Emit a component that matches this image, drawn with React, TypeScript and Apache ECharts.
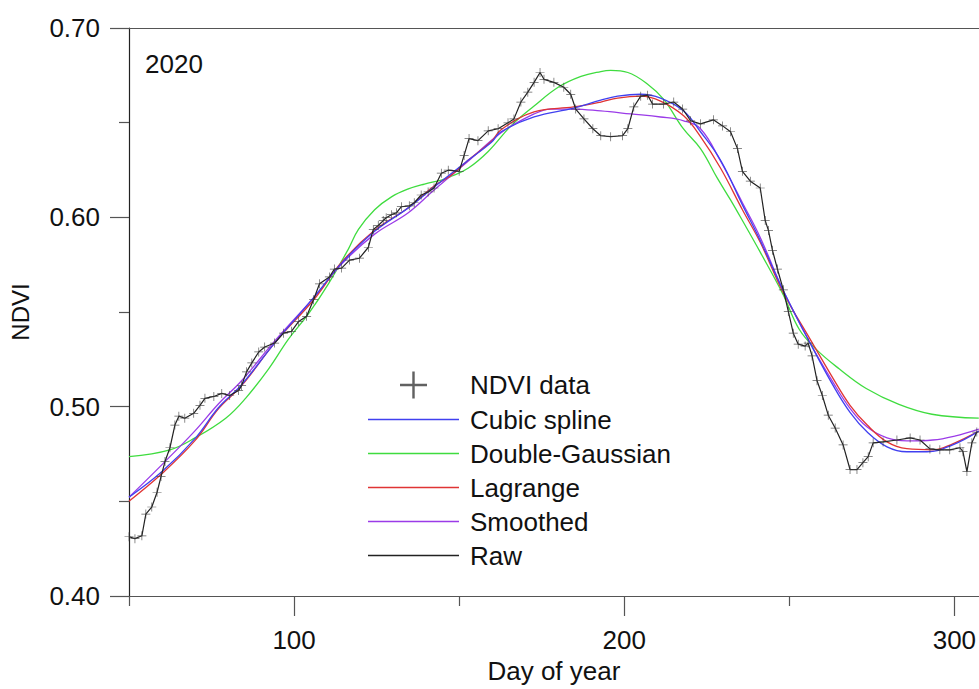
import React, { useEffect, useRef } from 'react';
import * as echarts from 'echarts';

const FONT = '"Liberation Sans", Arial, Helvetica, sans-serif';

const X_MIN = 50;
const X_MAX = 307.4;
const X_MAJOR_TICKS = [100, 200, 300];
const X_MINOR_TICKS = [50, 150, 250];
const Y_MIN = 0.4;
const Y_MAX = 0.7;
const Y_INTERVAL = 0.1;
const YEAR_LABEL = '2020';

// [day of year, NDVI]
const rawNdvi: [number, number][] = [
  [50.0, 0.4313], [51.8, 0.4303], [53.9, 0.4318], [55.1, 0.4433], [56.9, 0.447],
  [58.5, 0.4548], [59.7, 0.4631], [60.9, 0.471], [62.4, 0.4783], [63.9, 0.4903],
  [65.1, 0.495], [66.9, 0.4939], [69.6, 0.4965], [71.5, 0.5007], [73.0, 0.5044],
  [75.7, 0.5054], [78.1, 0.507], [80.5, 0.5059], [83.2, 0.5085], [84.1, 0.5111],
  [85.6, 0.5184], [87.2, 0.5231], [89.3, 0.5289], [91.1, 0.5315], [94.1, 0.5336],
  [96.8, 0.5388], [99.2, 0.5398], [101.4, 0.545], [103.8, 0.5477], [105.9, 0.5565],
  [107.7, 0.5649], [110.7, 0.5685], [112.2, 0.5727], [114.4, 0.5732], [116.8, 0.5774],
  [119.8, 0.5784], [122.5, 0.5842], [124.0, 0.5936], [125.5, 0.5957], [127.0, 0.5983],
  [127.9, 0.5998], [129.5, 0.6014], [131.0, 0.6024], [132.5, 0.6056], [134.9, 0.6061],
  [136.4, 0.6077], [138.5, 0.6118], [140.6, 0.6134], [142.4, 0.6155], [144.6, 0.6233],
  [146.7, 0.6249], [150.0, 0.6243], [151.5, 0.6327], [153.0, 0.6416], [155.7, 0.6405],
  [158.8, 0.6457], [161.8, 0.6468], [164.8, 0.6499], [166.6, 0.652], [168.7, 0.6609],
  [170.8, 0.6661], [172.7, 0.6713], [174.5, 0.6765], [175.7, 0.6729], [178.7, 0.6713],
  [181.7, 0.6687], [183.8, 0.665], [185.3, 0.6572], [187.8, 0.652], [190.5, 0.6468],
  [192.9, 0.6431], [195.9, 0.6426], [199.5, 0.6431], [201.1, 0.6468], [202.9, 0.6583],
  [205.0, 0.664], [207.1, 0.6645], [208.6, 0.6598], [211.9, 0.6598], [215.0, 0.6609],
  [217.7, 0.6572], [220.1, 0.651], [223.1, 0.6494], [227.0, 0.6515], [229.8, 0.6483],
  [232.2, 0.6452], [234.3, 0.6363], [235.8, 0.6243], [238.2, 0.6191], [241.2, 0.6155],
  [242.7, 0.5983], [243.7, 0.593], [244.9, 0.5826], [246.4, 0.5727], [248.2, 0.5617],
  [249.7, 0.5503], [251.2, 0.5388], [252.7, 0.533], [254.8, 0.532], [255.7, 0.5336],
  [256.9, 0.5268], [258.4, 0.5137], [260.0, 0.5059], [261.8, 0.4955], [263.9, 0.4887],
  [266.3, 0.4798], [268.4, 0.4668], [270.5, 0.4668], [272.3, 0.4704], [273.9, 0.4736],
  [275.4, 0.4809], [278.4, 0.4814], [282.6, 0.4824], [286.6, 0.4835], [289.6, 0.4824],
  [292.6, 0.4777], [295.6, 0.4772], [298.6, 0.4772], [301.7, 0.4783], [302.6, 0.4762],
  [303.8, 0.4657], [305.3, 0.4809], [306.8, 0.4866],
];

const cubicSpline: [number, number][] = [
  [50.0, 0.4522], [60.0, 0.4657], [69.9, 0.483], [77.2, 0.4997], [84.1, 0.5116],
  [94.1, 0.5336], [106.2, 0.5581], [114.4, 0.5758], [124.3, 0.5925], [134.6, 0.605],
  [142.4, 0.616], [152.7, 0.6301], [159.7, 0.6395], [162.7, 0.6452], [172.7, 0.653],
  [184.7, 0.6577], [192.9, 0.6619], [198.0, 0.664], [205.0, 0.665], [211.0, 0.663],
  [218.0, 0.6562], [223.1, 0.6452], [229.2, 0.6301], [235.8, 0.6066], [241.2, 0.5878],
  [248.2, 0.5612], [256.3, 0.5336], [263.3, 0.5111], [268.4, 0.497], [273.6, 0.4866],
  [279.6, 0.4788], [285.6, 0.4762], [291.7, 0.4762], [299.5, 0.4798], [307.4, 0.4871],
];

const doubleGaussian: [number, number][] = [
  [50.0, 0.4736], [62.4, 0.4772], [70.0, 0.4835], [79.3, 0.4939], [85.3, 0.5044],
  [92.3, 0.52], [98.3, 0.5357], [104.4, 0.5492], [110.4, 0.5649], [116.4, 0.5831],
  [119.5, 0.5936], [124.4, 0.604], [129.5, 0.6108], [134.6, 0.615], [139.5, 0.6176],
  [144.6, 0.6197], [147.6, 0.6217], [152.7, 0.6259], [158.8, 0.6348], [165.7, 0.6483],
  [172.7, 0.6588], [180.0, 0.6687], [186.9, 0.6744], [192.9, 0.677], [195.9, 0.6776],
  [201.1, 0.6765], [207.1, 0.6703], [211.9, 0.6624], [217.9, 0.6468], [223.1, 0.6363],
  [228.2, 0.6207], [232.2, 0.6092], [235.8, 0.5983], [241.2, 0.5816], [248.0, 0.5597],
  [253.0, 0.5409], [258.1, 0.5304], [265.1, 0.52], [273.3, 0.5096], [283.2, 0.5012],
  [293.2, 0.496], [307.4, 0.4939],
];

const lagrange: [number, number][] = [
  [50.0, 0.4501], [60.0, 0.4647], [69.9, 0.4819], [77.2, 0.4991], [84.1, 0.5111],
  [94.1, 0.5336], [106.2, 0.557], [114.4, 0.5763], [124.3, 0.593], [134.6, 0.6051],
  [142.4, 0.6165], [147.6, 0.6223], [152.7, 0.6301], [159.7, 0.64], [162.7, 0.6463],
  [172.7, 0.6557], [184.7, 0.6583], [192.9, 0.6609], [198.0, 0.663], [205.0, 0.664],
  [211.0, 0.6614], [218.0, 0.6536], [223.1, 0.6426], [229.2, 0.6259], [235.8, 0.604],
  [241.2, 0.5868], [248.2, 0.5602], [256.3, 0.5357], [263.3, 0.5148], [268.4, 0.5007],
  [273.6, 0.4903], [279.6, 0.4814], [285.6, 0.4778], [293.5, 0.4772], [299.5, 0.4804],
  [307.4, 0.4871],
];

const smoothed: [number, number][] = [
  [50.0, 0.4522], [60.0, 0.4694], [69.9, 0.4871], [77.2, 0.5017], [84.1, 0.5137],
  [94.1, 0.5346], [106.2, 0.5581], [114.4, 0.5753], [124.3, 0.591], [134.6, 0.6024],
  [142.4, 0.6144], [152.7, 0.6296], [162.7, 0.6447], [172.7, 0.6546], [177.8, 0.6572],
  [184.7, 0.6572], [192.9, 0.6562], [202.0, 0.6546], [211.0, 0.653], [218.0, 0.651],
  [223.1, 0.6468], [229.2, 0.6296], [235.8, 0.6077], [241.2, 0.5894], [248.2, 0.5612],
  [256.3, 0.5336], [263.3, 0.5127], [268.4, 0.4991], [273.6, 0.4892], [279.6, 0.4835],
  [285.6, 0.4819], [293.5, 0.4824], [300.1, 0.4845], [307.4, 0.4882],
];

const PLUS = 'path://M4.6,0H5.4V10H4.6Z M0,4.6H10V5.4H0Z';
const LEGEND_PLUS = 'path://M4.55,0H5.45V10H4.55Z M0,4.55H10V5.45H0Z';
const LEGEND_LINE = 'path://M0,0H70V1H0Z';

const COLORS = {
  raw: '#222222',
  marker: '#3a3a3a',
  cubic: '#4040f0',
  gauss: '#3fdc3f',
  lagrange: '#e03434',
  smoothed: '#9b3be8',
  axis: '#555555',
  text: '#111111',
};

function curve(name: string, data: [number, number][], color: string) {
  return {
    name,
    type: 'line',
    data,
    smooth: 0.4,
    symbol: 'none',
    lineStyle: { color, width: 1.3 },
    itemStyle: { color },
    z: 2,
  };
}

export default function App() {
  const ref = useRef<HTMLDivElement>(null);

  useEffect(() => {
    const chart = echarts.init(ref.current!, null, { renderer: 'svg' });
    const option: any = {
      animation: false,
      backgroundColor: '#ffffff',
      textStyle: { fontFamily: FONT },
      grid: { left: 127, right: 0, top: 28, bottom: 86, containLabel: false },
      xAxis: [
        {
          type: 'value',
          min: X_MIN,
          max: X_MAX,
          position: 'bottom',
          axisLine: { show: true, lineStyle: { color: COLORS.axis, width: 1.2 } },
          axisTick: { show: true, customValues: X_MAJOR_TICKS, length: 20, lineStyle: { color: COLORS.axis, width: 1.2 } },
          axisLabel: { show: true, customValues: X_MAJOR_TICKS, fontSize: 26, margin: 31, color: COLORS.text, fontFamily: FONT },
          splitLine: { show: false },
          name: 'Day of year',
          nameLocation: 'middle',
          nameGap: 62,
          nameTextStyle: { fontSize: 26, color: COLORS.text, fontFamily: FONT },
        },
        {
          type: 'value',
          min: X_MIN,
          max: X_MAX,
          position: 'bottom',
          axisLine: { show: false },
          axisTick: { show: true, customValues: X_MINOR_TICKS, length: 10, lineStyle: { color: COLORS.axis, width: 1.2 } },
          axisLabel: { show: false },
          splitLine: { show: false },
        },
        {
          type: 'value',
          min: X_MIN,
          max: X_MAX,
          position: 'top',
          axisLine: { show: true, lineStyle: { color: COLORS.axis, width: 1.2 } },
          axisTick: { show: false },
          axisLabel: { show: false },
          splitLine: { show: false },
        },
      ],
      yAxis: {
        type: 'value',
        min: Y_MIN,
        max: Y_MAX,
        interval: Y_INTERVAL,
        axisLine: { show: true, lineStyle: { color: '#222', width: 1.2 } },
        axisTick: { show: true, length: 19, lineStyle: { color: COLORS.axis, width: 1.2 } },
        minorTick: { show: true, splitNumber: 2, length: 10, lineStyle: { color: COLORS.axis, width: 1.2 } },
        axisLabel: {
          fontSize: 26,
          margin: 29,
          color: COLORS.text,
          fontFamily: FONT,
          formatter: (v: number) => v.toFixed(2),
        },
        splitLine: { show: false },
        name: 'NDVI',
        nameLocation: 'middle',
        nameGap: 97,
        nameTextStyle: { fontSize: 24, color: COLORS.text, fontFamily: FONT },
      },
      legend: {
        orient: 'vertical',
        left: 363,
        top: 366.5,
        itemWidth: 91,
        itemHeight: 27,
        itemGap: 8,
        selectedMode: false,
        symbolKeepAspect: true,
        textStyle: { fontSize: 26, color: COLORS.text, fontFamily: FONT, padding: [0, 0, 0, 6] },
        data: [
          { name: 'NDVI data', icon: LEGEND_PLUS },
          { name: 'Cubic spline', icon: LEGEND_LINE },
          { name: 'Double-Gaussian', icon: LEGEND_LINE },
          { name: 'Lagrange', icon: LEGEND_LINE },
          { name: 'Smoothed', icon: LEGEND_LINE },
          { name: 'Raw', icon: LEGEND_LINE },
        ],
      },
      graphic: [
        {
          type: 'text',
          left: 145,
          top: 51,
          style: { text: YEAR_LABEL, font: `26px ${FONT}`, fill: COLORS.text },
        },
      ],
      series: [
        curve('Double-Gaussian', doubleGaussian, COLORS.gauss),
        curve('Smoothed', smoothed, COLORS.smoothed),
        curve('Lagrange', lagrange, COLORS.lagrange),
        curve('Cubic spline', cubicSpline, COLORS.cubic),
        {
          name: 'Raw',
          type: 'line',
          data: rawNdvi,
          symbol: 'none',
          lineStyle: { color: COLORS.raw, width: 1.2 },
          itemStyle: { color: COLORS.raw },
          z: 3,
        },
        {
          name: 'NDVI data',
          type: 'scatter',
          data: rawNdvi,
          symbol: PLUS,
          symbolSize: 9,
          itemStyle: { color: COLORS.marker },
          z: 4,
        },
      ],
    };
    chart.setOption(option);
    return () => chart.dispose();
  }, []);

  return (
    <div
      ref={ref}
      style={{ position: 'fixed', left: 0, top: 0, width: 979, height: 689, background: '#fff' }}
    />
  );
}
